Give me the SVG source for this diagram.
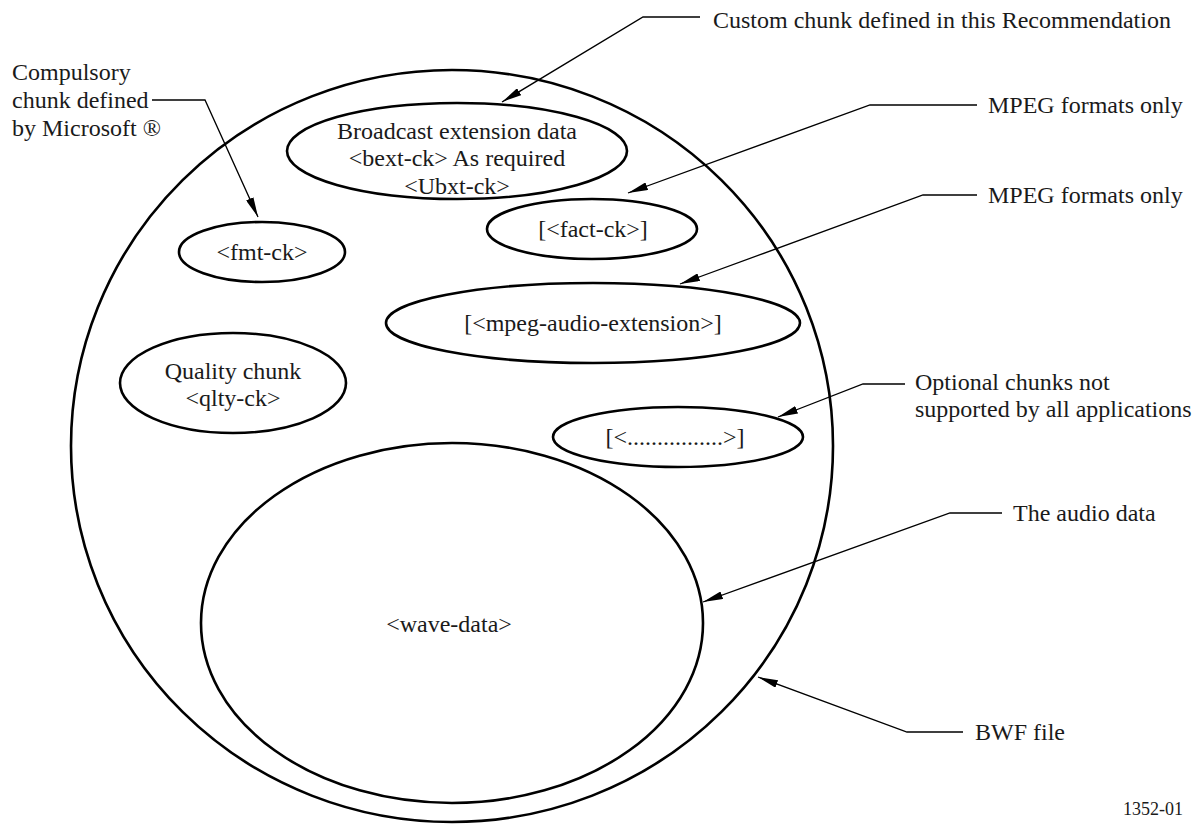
<svg xmlns="http://www.w3.org/2000/svg" width="1199" height="827" viewBox="0 0 1199 827">
<defs>
<style>
.sh{fill:none;stroke:#000;stroke-width:2.6}
.t{font-family:"Liberation Serif","Times New Roman",serif;font-size:24px;fill:#1a1a1a}
.m{text-anchor:middle}
.c{fill:none;stroke:#000;stroke-width:1.3;marker-end:url(#ah)}
</style>
<marker id="ah" markerUnits="userSpaceOnUse" viewBox="0 0 20 8" refX="20" refY="4" markerWidth="20" markerHeight="8" orient="auto">
<path d="M0,0 L20,4 L0,8 Z" fill="#000"/>
</marker>
</defs>
<rect width="1199" height="827" fill="#fff"/>
<g id="bwf-file">
<ellipse class="sh" cx="452" cy="446" rx="381" ry="376"/>
</g>
<g id="bext">
<ellipse class="sh" cx="457" cy="151" rx="170" ry="48"/>
<text class="t m" x="457" y="139">Broadcast extension data</text>
<text class="t m" x="457" y="166">&lt;bext-ck&gt; As required</text>
<text class="t m" x="457" y="194">&lt;Ubxt-ck&gt;</text>
</g>
<g id="fmt">
<ellipse class="sh" cx="262" cy="252" rx="83" ry="30"/>
<text class="t m" x="262" y="260">&lt;fmt-ck&gt;</text>
</g>
<g id="fact">
<ellipse class="sh" cx="592" cy="229" rx="105" ry="30"/>
<text class="t m" x="593" y="237">[&lt;fact-ck&gt;]</text>
</g>
<g id="mpeg">
<ellipse class="sh" cx="593" cy="323" rx="207" ry="40"/>
<text class="t m" x="593" y="331">[&lt;mpeg-audio-extension&gt;]</text>
</g>
<g id="qlty">
<ellipse class="sh" cx="233" cy="383" rx="113" ry="50"/>
<text class="t m" x="233" y="379">Quality chunk</text>
<text class="t m" x="233" y="406">&lt;qlty-ck&gt;</text>
</g>
<g id="optional">
<ellipse class="sh" cx="678" cy="437" rx="125" ry="30"/>
<text class="t m" x="675" y="445">[&lt;................&gt;]</text>
</g>
<g id="wave">
<ellipse class="sh" cx="452" cy="623" rx="251" ry="180"/>
<text class="t m" x="449" y="632">&lt;wave-data&gt;</text>
</g>
<g id="labels">
<text class="t" x="713" y="28">Custom chunk defined in this Recommendation</text>
<text class="t" x="12" y="80">Compulsory</text>
<text class="t" x="12" y="108">chunk defined</text>
<text class="t" x="12" y="136">by Microsoft ®</text>
<text class="t" x="988" y="113">MPEG formats only</text>
<text class="t" x="988" y="203">MPEG formats only</text>
<text class="t" x="915" y="390">Optional chunks not</text>
<text class="t" x="915" y="417">supported by all applications</text>
<text class="t" x="1013" y="521">The audio data</text>
<text class="t" x="975" y="740">BWF file</text>
<text class="t" x="1123" y="815" style="font-size:18px">1352-01</text>
</g>
<g id="connectors">
<path class="c" d="M700,17 H643 L502,102"/>
<path class="c" d="M152,100 H205 L258,217"/>
<path class="c" d="M977,105 H870 L628,193"/>
<path class="c" d="M977,195 H923 L680,284"/>
<path class="c" d="M905,384 H863 L778,417"/>
<path class="c" d="M1002,513 H950 L703,602"/>
<path class="c" d="M963,732 H907 L758,677"/>
</g>
</svg>
